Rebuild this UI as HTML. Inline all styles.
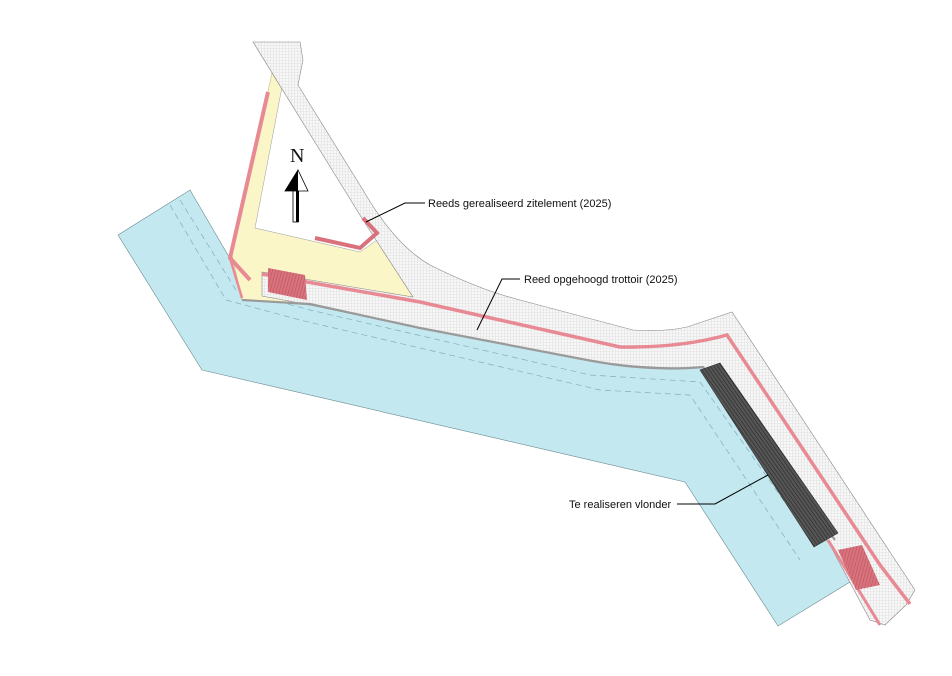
<!DOCTYPE html>
<html><head><meta charset="utf-8"><style>
html,body{margin:0;padding:0;background:#fff;}
svg{display:block}
text{font-family:"Liberation Sans",sans-serif;font-size:11px;fill:#111}
</style></head><body>
<svg width="952" height="676" viewBox="0 0 952 676" xmlns="http://www.w3.org/2000/svg">
<defs>
<pattern id="g" width="3" height="3" patternUnits="userSpaceOnUse">
<rect width="3" height="3" fill="#f7f7f7"/>
<path d="M0 0H3M0 0V3" stroke="#cfcfcf" stroke-width="0.6"/>
</pattern>
<pattern id="v" width="3" height="3" patternUnits="userSpaceOnUse" patternTransform="rotate(55)">
<rect width="3" height="3" fill="#555"/>
<path d="M0 0H3" stroke="#222" stroke-width="1"/>
</pattern>
<pattern id="r" width="3" height="3" patternUnits="userSpaceOnUse" patternTransform="rotate(15)">
<rect width="3" height="3" fill="#d9727c"/>
<path d="M0 0V3" stroke="#a84a55" stroke-width="0.8"/>
</pattern>
</defs>
<polygon points="118,235 190,190 232,262 242,300 310,305 420,328 587,360 650,368 703,367 830,540 850,582 778,626 685,482 202,370" fill="#c3e8f0" stroke="#6a8a90" stroke-width="0.6"/>
<path d="M180,200 L236,290 L310,310 L590,375 L700,382 L815,545" fill="none" stroke="#7fb0b8" stroke-width="0.7" stroke-dasharray="6,4"/>
<path d="M170,205 L226,300 L300,320 L600,390 L690,395 L800,560" fill="none" stroke="#7fb0b8" stroke-width="0.7" stroke-dasharray="6,4"/>
<polygon points="272,73 232,255 242,300 310,305 413,297 363,220" fill="#fbf6c8" stroke="#c8c088" stroke-width="0.6"/>
<polygon points="282,87 255,228 360,252 377,240 363,220" fill="#fff" stroke="#999" stroke-width="0.5"/>
<path d="M253,42 L300,42 L303,60 L298,85 L363,190 Q395,245 430,265 Q480,290 520,300 L633,330 Q665,332 687,327 L732,312 L915,590 L906,605 L885,625 L870,620 L830,545 L703,367 Q650,370 587,360 L420,328 L310,305 L262,296 L262,272 L413,297 L363,220 Z" fill="url(#g)" stroke="#888" stroke-width="0.6"/>
<path d="M242,300 L310,304 L420,328 L587,360 Q650,372 703,367 L835,540" fill="none" stroke="#9a9a9a" stroke-width="2.2"/>
<path d="M268,92 L230,258 L250,280" fill="none" stroke="#e88a94" stroke-width="4"/>
<path d="M262,274 L420,302 L620,347 Q680,348 727,335 L880,565 L910,604" fill="none" stroke="#e88a94" stroke-width="3.5"/>
<path d="M230,258 L242,298" fill="none" stroke="#e88a94" stroke-width="2.5"/>
<path d="M828,540 L880,625" fill="none" stroke="#e88a94" stroke-width="3"/>
<path d="M315,238 L360,248 L377,233 L363,218" fill="none" stroke="#d9727c" stroke-width="4"/>
<polygon points="700,370 720,363 838,533 814,547" fill="url(#v)" stroke="#333" stroke-width="0.6"/>
<polygon points="268,268 305,275 307,300 268,292" fill="url(#r)"/>
<polygon points="838,550 862,545 880,585 856,590" fill="url(#r)"/>
<text x="290" y="162" style="font-family:'Liberation Serif',serif;font-size:20px">N</text>
<polygon points="285,191 298,170 308,191" fill="#fff" stroke="#000" stroke-width="0.8"/>
<polygon points="285,191 298,170 298,191" fill="#000"/>
<rect x="293" y="191" width="5" height="31" fill="#fff" stroke="#000" stroke-width="0.8"/>
<rect x="296" y="191" width="3" height="31" fill="#000"/>
<path d="M425,203 L405,203 L366,222" fill="none" stroke="#000" stroke-width="1"/>
<text x="428" y="207">Reeds gerealiseerd zitelement (2025)</text>
<path d="M520,279 L502,279 L477,330" fill="none" stroke="#000" stroke-width="1"/>
<text x="524" y="283">Reed opgehoogd trottoir (2025)</text>
<path d="M677,504 L715,504 L768,475" fill="none" stroke="#000" stroke-width="1"/>
<text x="569" y="508">Te realiseren vlonder</text>
</svg>
</body></html>
